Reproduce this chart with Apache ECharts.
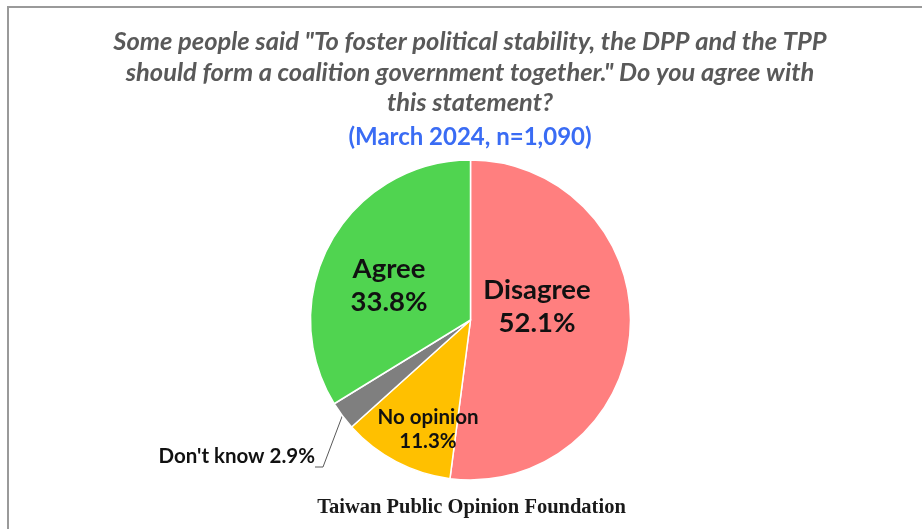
<!DOCTYPE html>
<html>
<head>
<meta charset="utf-8">
<script src="https://cdn.jsdelivr.net/npm/echarts@6/dist/echarts.min.js"></script>
<style>
  html, body { margin: 0; padding: 0; background: #fff; }
  #chart { width: 922px; height: 529px; }
</style>
</head>
<body>
<div id="chart"></div>
<script>
// Survey answers, clockwise from 12 o'clock
const categories = ['Disagree', 'No opinion', "Don't know", 'Agree'];
const shares = [52.1, 11.3, 2.9, 33.8];
const sliceColors = ['#FF7F7F', '#FFC000', '#7F7F7F', '#50D450'];

const titleLines = [
  'Some people said "To foster political stability, the DPP and the TPP',
  'should form a coalition government together." Do you agree with',
  'this statement?'
];
const subtitleText = '(March 2024, n=1,090)';
const sourceText = 'Taiwan Public Opinion Foundation';

const chart = echarts.init(document.getElementById('chart'));

// where each slice's text block sits (centre for inside labels, right edge for the outside one)
const labelSpots = [
  { x: 537, y: 307, align: 'center' },
  { x: 428, y: 429, align: 'center' },
  { x: 315, y: 467, align: 'right' },
  { x: 389, y: 286, align: 'center' }
];

const data = categories.map((name, i) => {
  const item = {
    name,
    value: shares[i],
    itemStyle: { color: sliceColors[i] }
  };
  if (i === 2) {
    // outside label; the empty second line drops the leader line's tail below the text
    item.label = {
      position: 'outside',
      formatter: '{b} {c}%\n',
      fontSize: 20.5,
      lineHeight: 22
    };
    item.labelLine = {
      show: true,
      length: 50,
      length2: 8,
      lineStyle: { color: '#595959', width: 1 }
    };
  } else if (i === 1) {
    item.label = { position: 'inside', formatter: '{b}\n{c}%', fontSize: 20.5, lineHeight: 24 };
  } else {
    item.label = { position: 'inside', formatter: '{b}\n{c}%', fontSize: 27.5, lineHeight: 33 };
  }
  return item;
});

chart.setOption({
  backgroundColor: '#ffffff',
  animation: false,
  title: [
    {
      text: titleLines.join('\n'),
      left: 465,
      textAlign: 'center',
      top: 22,
      textStyle: {
        fontFamily: 'Lato',
        fontStyle: 'italic',
        fontWeight: 'bold',
        fontSize: 25.5,
        lineHeight: 30.5,
        color: '#595959'
      }
    },
    {
      text: subtitleText,
      left: 465,
      textAlign: 'center',
      top: 120,
      textStyle: {
        fontFamily: 'Lato',
        fontWeight: 'bold',
        fontSize: 24,
        color: '#3A6CF4'
      }
    },
    {
      text: sourceText,
      left: 466.5,
      textAlign: 'center',
      top: 492,
      textStyle: {
        fontFamily: 'Liberation Serif',
        fontWeight: 'bold',
        fontSize: 20.5,
        color: '#1a1a1a'
      }
    }
  ],
  graphic: [
    {
      type: 'polyline',
      shape: { points: [[8, 529], [8, 7], [922, 7]] },
      style: { stroke: '#9a9a9a', lineWidth: 2, fill: null },
      silent: true
    }
  ],
  series: [
    {
      type: 'pie',
      center: [470.5, 320],
      radius: 160,
      startAngle: 90,
      clockwise: true,
      avoidLabelOverlap: false,
      itemStyle: { borderColor: '#ffffff', borderWidth: 1.5 },
      label: {
        show: true,
        color: '#111111',
        fontFamily: 'Lato',
        fontWeight: 'bold'
      },
      labelLine: { show: false },
      labelLayout: function (params) {
        const s = labelSpots[params.dataIndex];
        return { x: s.x, y: s.y, align: s.align, verticalAlign: 'middle' };
      },
      emphasis: { disabled: true },
      data
    }
  ]
});
</script>
</body>
</html>
